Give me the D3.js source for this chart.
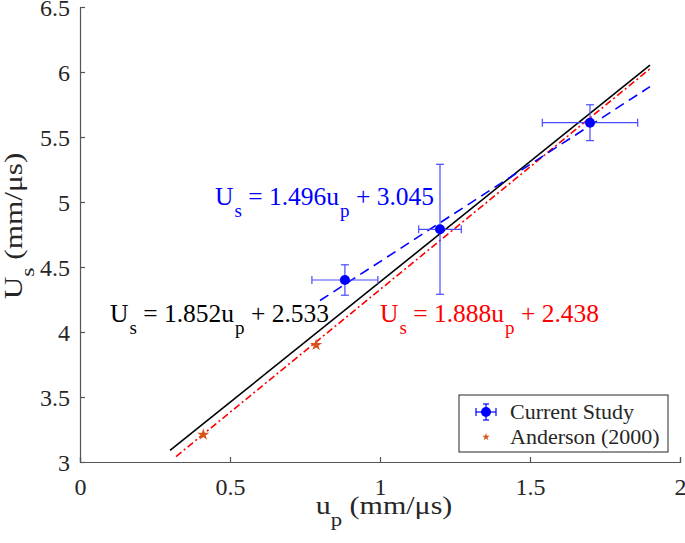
<!DOCTYPE html>
<html>
<head>
<meta charset="utf-8" />
<title>Us vs up</title>
<style>
* { padding: 0; margin: 0; }
body { background: #fff; }
#chart { width: 685px; height: 543px; }
svg text { font-family: "Liberation Serif", Tinos, "Times New Roman", Times, serif; }
</style>
</head>
<body>
<div id="chart"></div>
<script src="https://cdn.jsdelivr.net/npm/d3@7"></script>
<script>
// values
var xTicks = [0, 0.5, 1, 1.5, 2]
var yTicks = [3, 3.5, 4, 4.5, 5, 5.5, 6, 6.5]

var studyUp = [0.883, 1.20, 1.70]
var studyUs = [4.40, 4.79, 5.61]
var studyUpErr = [0.11, 0.071, 0.159]
var studyUsErr = [0.117, 0.50, 0.138]

var andersonUp = [0.411, 0.787]
var andersonUs = [3.21, 3.90]

// fit lines, end points
var blackFitUp = [0.30, 1.90]
var blackFitUs = [3.089, 6.052]
var redFitUp = [0.32, 1.90]
var redFitUs = [3.042, 6.025]
var blueFitUp = [0.80, 1.90]
var blueFitUs = [4.242, 5.887]

var serif = '"Liberation Serif", Tinos, "Times New Roman", Times, serif'

var margin = {top: 7, left: 80, bottom: 81, right: 5}
var width = 685, height = 543
var chartWidth = width - margin.left - margin.right
var chartHeight = height - margin.top - margin.bottom

var svg = d3.select("#chart").append("svg")
    .attr("width", width).attr("height", height)
    .attr("font-family", serif)

var g = svg.append("g").attr("transform", "translate(" + margin.left + "," + margin.top + ")")

var x = d3.scaleLinear().domain([0, 2]).range([0, chartWidth])
var y = d3.scaleLinear().domain([3, 6.5]).range([chartHeight, 0])

var axisColor = "#555"
var textColor = "#262626"

// axes (ticks pointing inward)
var xAxis = g.append("g").attr("transform", "translate(0," + chartHeight + ")")
    .call(d3.axisBottom(x).tickValues(xTicks).tickSize(-5).tickPadding(16).tickFormat(d3.format("")))
var yAxis = g.append("g")
    .call(d3.axisLeft(y).tickValues(yTicks).tickSize(-5).tickPadding(10).tickFormat(d3.format("")))

;[xAxis, yAxis].forEach(function(a) {
    a.attr("font-family", serif).attr("font-size", 24)
    a.select(".domain").attr("stroke", axisColor).attr("stroke-width", 1.2)
    a.selectAll(".tick line").attr("stroke", axisColor).attr("stroke-width", 1.2)
    a.selectAll(".tick text").attr("fill", textColor)
})
xAxis.selectAll(".tick text").attr("dy", "0.71em")
yAxis.selectAll(".tick text").attr("dy", "0.34em")

// fit lines
var line = d3.line().x(function(d) { return x(d[0]) }).y(function(d) { return y(d[1]) })

g.append("path").datum(d3.zip(blackFitUp, blackFitUs)).attr("d", line)
    .attr("fill", "none").attr("stroke", "#000").attr("stroke-width", 1.6)
g.append("path").datum(d3.zip(redFitUp, redFitUs)).attr("d", line)
    .attr("fill", "none").attr("stroke", "#ff0000").attr("stroke-width", 1.6)
    .attr("stroke-dasharray", "7,3,2,3")
g.append("path").datum(d3.zip(blueFitUp, blueFitUs)).attr("d", line)
    .attr("fill", "none").attr("stroke", "#0000ff").attr("stroke-width", 1.6)
    .attr("stroke-dasharray", "10,6")

// error bars
var ebColor = "#4a4aff"
var cap = 4
var study = studyUp.map(function(u, i) {
    return {up: u, us: studyUs[i], ex: studyUpErr[i], ey: studyUsErr[i]}
})
var eb = g.append("g").selectAll("g").data(study).enter().append("g")
    .attr("stroke", ebColor).attr("stroke-width", 1.2)
eb.append("line")
    .attr("x1", function(d) { return x(d.up) }).attr("x2", function(d) { return x(d.up) })
    .attr("y1", function(d) { return y(d.us - d.ey) }).attr("y2", function(d) { return y(d.us + d.ey) })
eb.append("line")
    .attr("x1", function(d) { return x(d.up) - cap }).attr("x2", function(d) { return x(d.up) + cap })
    .attr("y1", function(d) { return y(d.us - d.ey) }).attr("y2", function(d) { return y(d.us - d.ey) })
eb.append("line")
    .attr("x1", function(d) { return x(d.up) - cap }).attr("x2", function(d) { return x(d.up) + cap })
    .attr("y1", function(d) { return y(d.us + d.ey) }).attr("y2", function(d) { return y(d.us + d.ey) })
eb.append("line")
    .attr("x1", function(d) { return x(d.up - d.ex) }).attr("x2", function(d) { return x(d.up + d.ex) })
    .attr("y1", function(d) { return y(d.us) }).attr("y2", function(d) { return y(d.us) })
eb.append("line")
    .attr("x1", function(d) { return x(d.up - d.ex) }).attr("x2", function(d) { return x(d.up - d.ex) })
    .attr("y1", function(d) { return y(d.us) - cap }).attr("y2", function(d) { return y(d.us) + cap })
eb.append("line")
    .attr("x1", function(d) { return x(d.up + d.ex) }).attr("x2", function(d) { return x(d.up + d.ex) })
    .attr("y1", function(d) { return y(d.us) - cap }).attr("y2", function(d) { return y(d.us) + cap })
eb.append("circle")
    .attr("cx", function(d) { return x(d.up) }).attr("cy", function(d) { return y(d.us) })
    .attr("r", 5).attr("fill", "#0000ff").attr("stroke", "none")

// Anderson stars
var star = d3.symbol().type(d3.symbolStar).size(45)
g.append("g").selectAll("path").data(d3.zip(andersonUp, andersonUs)).enter().append("path")
    .attr("d", star)
    .attr("transform", function(d) { return "translate(" + x(d[0]) + "," + y(d[1]) + ")" })
    .attr("fill", "#d95319")

// equation labels
function eqLabel(px, py, color, slope, icpt) {
    var t = svg.append("text").attr("x", px).attr("y", py).attr("fill", color)
        .attr("font-size", 25.5)
    t.append("tspan").text("U")
    t.append("tspan").attr("dy", 12).attr("dx", 1).attr("font-size", 19).text("s")
    t.append("tspan").attr("dy", -12).text(" = " + slope + "u")
    t.append("tspan").attr("dy", 12).attr("dx", 1).attr("font-size", 19).text("p")
    t.append("tspan").attr("dy", -12).text(" + " + icpt)
}
eqLabel(215, 205, "#0000ff", "1.496", "3.045")
eqLabel(110, 322, "#000", "1.852", "2.533")
eqLabel(380, 322, "#ff0000", "1.888", "2.438")

// axis labels (a bit wider than tall, like the source)
var xl = svg.append("text")
    .attr("transform", "translate(384,514) scale(1.2,1)")
    .attr("text-anchor", "middle").attr("fill", textColor).attr("font-size", 25)
xl.append("tspan").text("u")
xl.append("tspan").attr("dy", 12).attr("font-size", 19).text("p")
xl.append("tspan").attr("dy", -12).text(" (mm/\u03bcs)")

var yl = svg.append("text")
    .attr("transform", "translate(22,226) rotate(-90) scale(1.25,1)")
    .attr("text-anchor", "middle").attr("fill", textColor).attr("font-size", 25)
yl.append("tspan").text("U")
yl.append("tspan").attr("dy", 12).attr("font-size", 19).text("s")
yl.append("tspan").attr("dy", -12).text(" (mm/\u03bcs)")

// legend
var lg = svg.append("g").attr("transform", "translate(459,395)")
lg.append("rect").attr("width", 209).attr("height", 57)
    .attr("fill", "#fff").attr("stroke", "#262626").attr("stroke-width", 1)
var lx = 27, l1 = 17, l2 = 42
var le = lg.append("g").attr("stroke", "#0000ff").attr("stroke-width", 1.2)
le.append("line").attr("x1", lx - 10).attr("x2", lx + 10).attr("y1", l1).attr("y2", l1)
le.append("line").attr("x1", lx - 10).attr("x2", lx - 10).attr("y1", l1 - 4).attr("y2", l1 + 4)
le.append("line").attr("x1", lx + 10).attr("x2", lx + 10).attr("y1", l1 - 4).attr("y2", l1 + 4)
le.append("line").attr("x1", lx).attr("x2", lx).attr("y1", l1 - 8).attr("y2", l1 + 8)
le.append("line").attr("x1", lx - 3).attr("x2", lx + 3).attr("y1", l1 - 8).attr("y2", l1 - 8)
le.append("line").attr("x1", lx - 3).attr("x2", lx + 3).attr("y1", l1 + 8).attr("y2", l1 + 8)
lg.append("circle").attr("cx", lx).attr("cy", l1).attr("r", 5).attr("fill", "#0000ff")
lg.append("path").attr("d", d3.symbol().type(d3.symbolStar).size(18))
    .attr("transform", "translate(" + lx + "," + l2 + ")").attr("fill", "#d95319")
lg.append("text").attr("x", 51).attr("y", l1 + 7).attr("fill", textColor)
    .attr("font-size", 22).text("Current Study")
lg.append("text").attr("x", 51).attr("y", l2 + 7).attr("fill", textColor)
    .attr("font-size", 22).text("Anderson (2000)")
</script>
</body>
</html>
